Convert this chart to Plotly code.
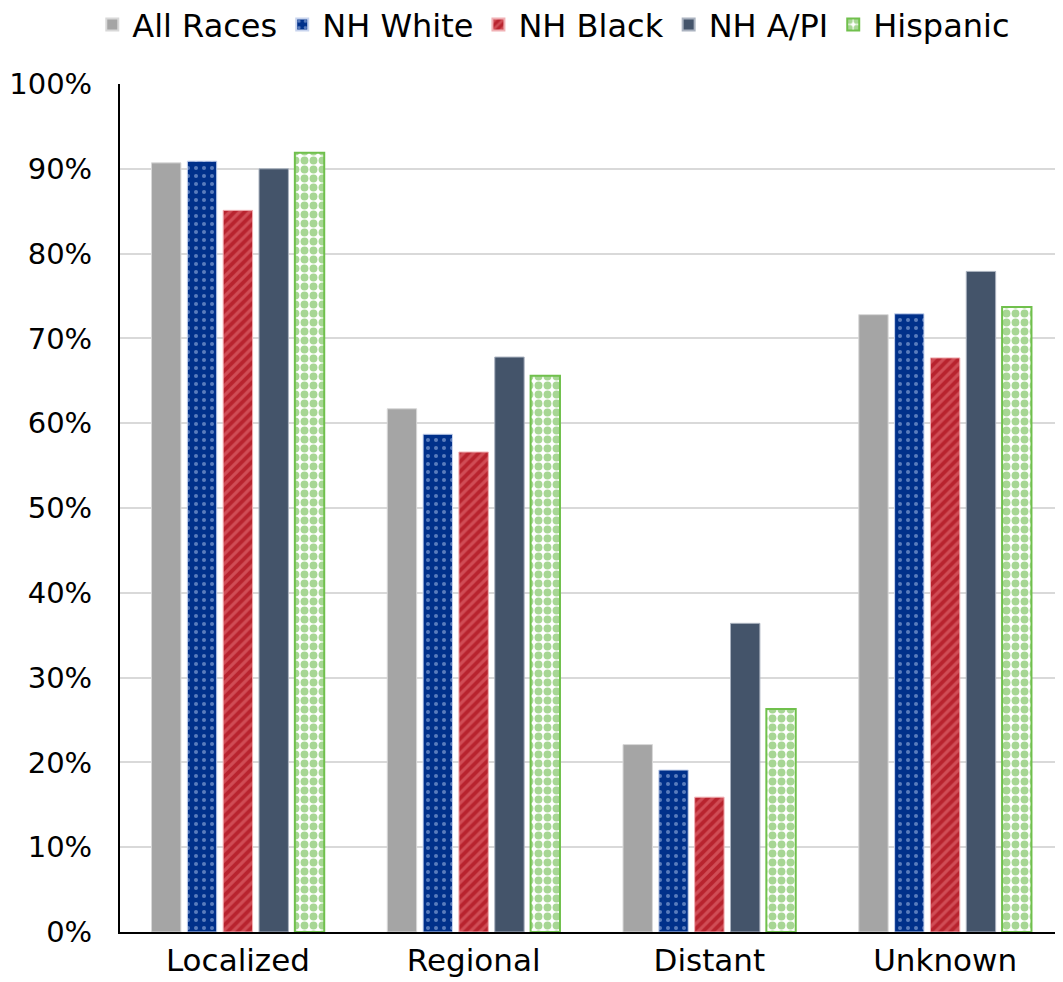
import plotly.graph_objects as go

stages = ["Localized", "Regional", "Distant", "Unknown"]
all_races = [90.7, 61.7, 22.1, 72.8]
nh_white = [90.9, 58.7, 19.1, 72.9]
nh_black = [85.1, 56.6, 15.9, 67.7]
nh_api = [90.0, 67.8, 36.4, 77.9]
hispanic = [91.9, 65.6, 26.3, 73.7]

FONT = "DejaVu Sans"

fig = go.Figure()
fig.add_bar(
    x=stages, y=all_races, name="All Races",
    marker=dict(color="#a5a5a5", line=dict(color="#d8d8d8", width=1)),
)
fig.add_bar(
    x=stages, y=nh_white, name="NH White",
    marker=dict(
        color="#00308a", line=dict(color="#c8d4ee", width=1),
        pattern=dict(shape=".", fgcolor="#b4c8ee", bgcolor="#00308a",
                     size=8, solidity=0.2),
    ),
)
fig.add_bar(
    x=stages, y=nh_black, name="NH Black",
    marker=dict(
        color="#b8232e", line=dict(color="#f0b0b4", width=1),
        pattern=dict(shape="/", fgcolor="#e8787e", bgcolor="#b8232e",
                     size=7, solidity=0.45),
    ),
)
fig.add_bar(
    x=stages, y=nh_api, name="NH A/PI",
    marker=dict(color="#44546a", line=dict(color="#aab2bf", width=1)),
)
fig.add_bar(
    x=stages, y=hispanic, name="Hispanic",
    marker=dict(
        color="white", line=dict(color="#70c04c", width=2),
        pattern=dict(shape=".", fgcolor="#4fae2a", bgcolor="white",
                     size=9, solidity=0.6),
    ),
)

# the page adds an 8px body margin, so the figure is sized to fit the window;
# margins are fixed so the legend and category labels do not move the plot
fig.update_layout(
    width=1055, height=974,
    margin=dict(l=112, r=0, t=76, b=50, autoexpand=False),
    paper_bgcolor="white", plot_bgcolor="white",
    barmode="group", bargap=0.24, bargroupgap=0.18,
    font=dict(family=FONT, size=29, color="black"),
    legend=dict(
        orientation="h", x=0.46, xanchor="center", y=1.07, yanchor="middle",
        font=dict(size=32), traceorder="normal", itemsizing="constant",
    ),
    xaxis=dict(
        showline=True, linecolor="black", linewidth=2, ticks="",
        tickfont=dict(size=31), automargin=False,
    ),
    yaxis=dict(
        range=[0, 100], dtick=10, ticksuffix="%",
        showline=True, linecolor="black", linewidth=2,
        showgrid=True, gridcolor="#d9d9d9", gridwidth=2,
        ticks="outside", ticklen=0, ticklabelstandoff=20,
        tickfont=dict(size=29), zeroline=False, automargin=False,
    ),
)

fig.write_html("out.html")
